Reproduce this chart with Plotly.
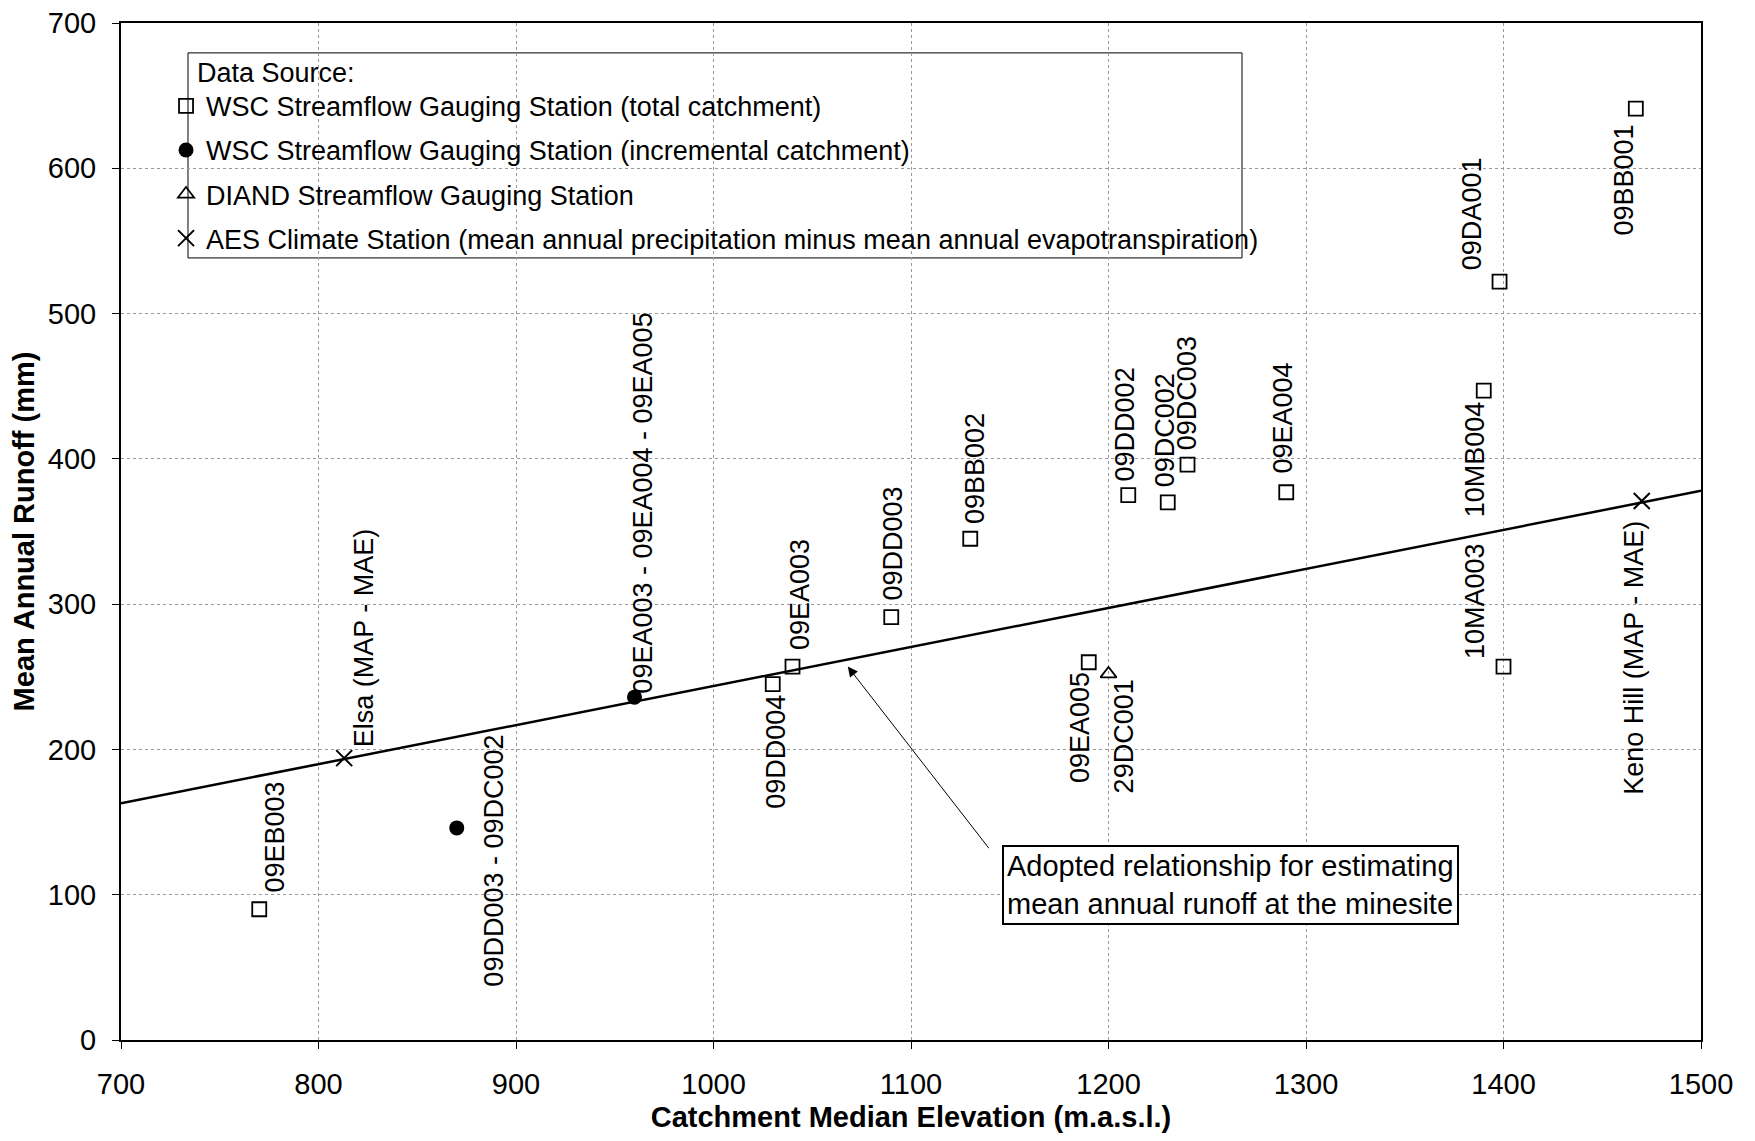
import plotly.graph_objects as go

# WSC streamflow gauging stations (total catchment)
wsc_total_elev = [770, 1030, 1040, 1090, 1130, 1190, 1210, 1230, 1240, 1290, 1390, 1400, 1398, 1467]
wsc_total_runoff = [90, 245, 257, 291, 345, 260, 375, 370, 396, 377, 447, 257, 522, 641]
wsc_total_ids = ["09EB003", "09DD004", "09EA003", "09DD003", "09BB002", "09EA005", "09DD002",
                 "09DC002", "09DC003", "09EA004", "10MB004", "10MA003", "09DA001", "09BB001"]

# WSC streamflow gauging stations (incremental catchment)
wsc_incr_elev = [870, 960]
wsc_incr_runoff = [146, 236]
wsc_incr_ids = ["09DD003 - 09DC002", "09EA003 - 09EA004 - 09EA005"]

# DIAND streamflow gauging station
diand_elev = [1200]
diand_runoff = [252]
diand_ids = ["29DC001"]

# AES climate stations (MAP - MAE)
aes_elev = [813, 1470]
aes_runoff = [194, 371]
aes_ids = ["Elsa (MAP - MAE)", "Keno Hill (MAP - MAE)"]

# adopted relationship
fit_elev = [700, 1500]
fit_runoff = [163, 378]

# label offsets from the point, in pixels (xshift, yshift)
label_shift = {
    "09EB003": (16, 72), "09DD004": (3, -68), "09EA003": (7, 72), "09DD003": (2, 74),
    "09BB002": (5, 70), "09EA005": (-8, -65), "09DD002": (-3, 71), "09DC002": (-2, 72),
    "09DC003": (-1, 71), "09EA004": (-3, 74), "10MB004": (-9, -69), "10MA003": (-29, 65),
    "09DA001": (-28, 68), "09BB001": (-12, -71),
    "09DD003 - 09DC002": (37, -33), "09EA003 - 09EA004 - 09EA005": (9, 194),
    "29DC001": (15, -63),
    "Elsa (MAP - MAE)": (20, 120), "Keno Hill (MAP - MAE)": (-8, -157),
}

FONT = "Liberation Sans, Arial, sans-serif"

fig = go.Figure()

fig.add_trace(go.Scatter(x=fit_elev, y=fit_runoff, mode="lines",
                         line=dict(color="black", width=2.5), showlegend=False, hoverinfo="skip"))

fig.add_trace(go.Scatter(x=wsc_total_elev, y=wsc_total_runoff, mode="markers",
                         name="WSC Streamflow Gauging Station (total catchment)",
                         legendgroup="a",
                         marker=dict(symbol="square-open", size=14, color="black", line=dict(width=1.8))))
fig.add_trace(go.Scatter(x=wsc_incr_elev, y=wsc_incr_runoff, mode="markers",
                         name="WSC Streamflow Gauging Station (incremental catchment)",
                         legendgroup="b",
                         marker=dict(symbol="circle", size=15, color="black")))
fig.add_trace(go.Scatter(x=diand_elev, y=diand_runoff, mode="markers",
                         name="DIAND Streamflow Gauging Station",
                         legendgroup="c",
                         marker=dict(symbol="triangle-up-open", size=14, color="black", line=dict(width=1.8))))
fig.add_trace(go.Scatter(x=aes_elev, y=aes_runoff, mode="markers",
                         name="AES Climate Station (mean annual precipitation minus mean annual evapotranspiration)",
                         legendgroup="d",
                         marker=dict(symbol="x-thin-open", size=16, color="black", line=dict(width=2, color="black"))))

# rotated point labels
for xs, ys, ids in [(wsc_total_elev, wsc_total_runoff, wsc_total_ids),
                    (wsc_incr_elev, wsc_incr_runoff, wsc_incr_ids),
                    (diand_elev, diand_runoff, diand_ids),
                    (aes_elev, aes_runoff, aes_ids)]:
    for x, y, t in zip(xs, ys, ids):
        dx, dy = label_shift[t]
        fig.add_annotation(x=x, y=y, xref="x", yref="y", text=t, showarrow=False,
                           textangle=-90, xanchor="center", yanchor="middle",
                           xshift=dx, yshift=dy,
                           font=dict(family=FONT, size=27, color="black"))

# callout box + arrow
fig.add_annotation(x=1262, y=107, xref="x", yref="y",
                   text="Adopted relationship for estimating<br>mean annual runoff at the minesite",
                   showarrow=False, align="left", bgcolor="white",
                   bordercolor="black", borderwidth=2, borderpad=3,
                   font=dict(family=FONT, size=29, color="black"))
fig.add_annotation(x=1068, y=257, ax=1140, ay=131, xref="x", yref="y", axref="x", ayref="y",
                   text="", showarrow=True, arrowhead=2, arrowsize=2, arrowwidth=1,
                   arrowcolor="black", standoff=0)

# legend frame (symbols sit on its left edge, as in the original)
fig.add_shape(type="rect", xref="paper", yref="paper", x0=0.0424, x1=0.7095, y0=0.769, y1=0.9706,
              line=dict(color="black", width=1), fillcolor="white", layer="between")
fig.add_annotation(x=0.0468, y=0.951, xref="paper", yref="paper", text="Data Source:",
                   showarrow=False, xanchor="left", yanchor="middle",
                   font=dict(family=FONT, size=27, color="black"))

# the page body has an 8px margin, so the figure is 16px smaller than the window
fig.update_layout(
    width=1739, height=1125,
    margin=dict(l=113, r=46, t=15, b=93),
    plot_bgcolor="white", paper_bgcolor="white",
    font=dict(family=FONT, size=28, color="black"),
    legend=dict(
        x=0.0285, y=0.9422, xanchor="left", yanchor="top",
        bgcolor="rgba(0,0,0,0)", borderwidth=0,
        font=dict(family=FONT, size=27), tracegroupgap=6,
        traceorder="grouped", itemwidth=30,
    ),
)

fig.update_xaxes(range=[700, 1500], dtick=100, tick0=700, automargin=False,
                 showline=True, mirror=True, linecolor="black", linewidth=2,
                 ticks="outside", ticklen=7, tickcolor="black", tickwidth=1,
                 ticklabelstandoff=10, ticklabeloverflow="allow",
                 showgrid=True, gridcolor="#9a9a9a", griddash="dot", gridwidth=1,
                 zeroline=False, tickfont=dict(family=FONT, size=29),
                 title=dict(text="<b>Catchment Median Elevation (m.a.s.l.)</b>",
                            font=dict(family=FONT, size=29), standoff=14))
fig.update_yaxes(range=[0, 700], dtick=100, automargin=False,
                 showline=True, mirror=True, linecolor="black", linewidth=2,
                 ticks="outside", ticklen=7, tickcolor="black", tickwidth=1,
                 ticklabelstandoff=10, ticklabeloverflow="allow",
                 showgrid=True, gridcolor="#9a9a9a", griddash="dot", gridwidth=1,
                 zeroline=False, tickfont=dict(family=FONT, size=29),
                 title=dict(text="<b>Mean Annual Runoff (mm)</b>",
                            font=dict(family=FONT, size=29), standoff=9))

fig.write_html("out.html")
